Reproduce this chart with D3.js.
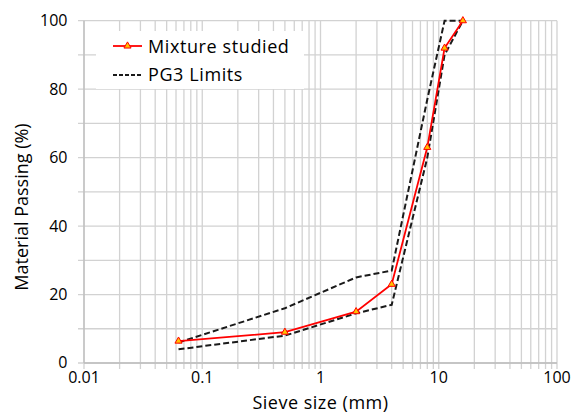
<!DOCTYPE html>
<html>
<head>
<meta charset="utf-8">
<script src="https://cdn.jsdelivr.net/npm/d3@7"></script>
<style>
  html, body { margin: 0; padding: 0; background: #fff; }
  svg { display: block; font-family: "Open Sans", sans-serif; }
</style>
</head>
<body>
<svg id="chart" width="581" height="416"></svg>
<script>
// Sieve sizes (mm) and percentage passing
const sieveSizes   = [0.063, 0.5, 2, 4, 8, 11.2, 16];
const mixture      = [6.4, 9, 15, 23, 63, 92, 100];
const upperLimit   = [6, 16, 25, 27, 77, 100, 100];
const lowerLimit   = [4, 8, 14.5, 17, 60, 90, 100];

const xTickValues  = [0.01, 0.1, 1, 10, 100];
const xTickLabels  = ["0.01", "0.1", "1", "10", "100"];
const yTickValues  = [0, 20, 40, 60, 80, 100];

const seriesNames  = ["Mixture studied", "PG3 Limits"];

const svg = d3.select("#chart");
const plotLeft = 84, plotRight = 557, plotTop = 20.7, plotBottom = 363;

const x = d3.scaleLog().domain([0.01, 100]).range([plotLeft, plotRight]);
const y = d3.scaleLinear().domain([0, 100]).range([plotBottom, plotTop]);

const gridColor = "#d2d2d2";

// minor + major gridlines on the log axis (1..9 per decade)
const xGrid = [];
for (let e = -2; e < 2; e++) {
  for (let m = 1; m < 10; m++) xGrid.push(m * Math.pow(10, e));
}
xGrid.push(100);
const yGrid = d3.range(0, 101, 10);

const grid = svg.append("g");
grid.selectAll("line.vx").data(xGrid).join("line")
  .attr("x1", d => x(d)).attr("x2", d => x(d))
  .attr("y1", plotTop).attr("y2", plotBottom + 6)
  .attr("stroke", gridColor).attr("stroke-width", 1.3);
grid.selectAll("line.hy").data(yGrid).join("line")
  .attr("x1", plotLeft - 6).attr("x2", plotRight)
  .attr("y1", d => y(d)).attr("y2", d => y(d))
  .attr("stroke", gridColor).attr("stroke-width", 1.3);

// axis lines
svg.append("line").attr("x1", plotLeft).attr("x2", plotRight).attr("y1", plotBottom).attr("y2", plotBottom)
  .attr("stroke", "#bdbdbd").attr("stroke-width", 1.3);
svg.append("line").attr("x1", plotLeft).attr("x2", plotLeft).attr("y1", plotTop).attr("y2", plotBottom)
  .attr("stroke", "#bdbdbd").attr("stroke-width", 1.3);

// tick labels
svg.append("g").selectAll("text").data(xTickValues).join("text")
  .attr("x", d => x(d)).attr("y", 383)
  .attr("text-anchor", "middle").attr("font-size", 16).attr("fill", "#000")
  .text((d, i) => xTickLabels[i]);
svg.append("g").selectAll("text").data(yTickValues).join("text")
  .attr("x", 67.5).attr("y", d => y(d)).attr("dy", "0.34em")
  .attr("text-anchor", "end").attr("font-size", 16).attr("fill", "#000")
  .text(d => d);

// axis titles
svg.append("text").attr("x", (plotLeft + plotRight) / 2).attr("y", 409)
  .attr("text-anchor", "middle").attr("font-size", 18).attr("fill", "#000")
  .attr("letter-spacing", 0.5)
  .text("Sieve size (mm)");
svg.append("text").attr("transform", "translate(28,207) rotate(-90)")
  .attr("text-anchor", "middle").attr("font-size", 18).attr("fill", "#000")
  .text("Material Passing (%)");

// curves
const line = d3.line().x(d => x(d[0])).y(d => y(d[1]));
const pairs = vals => sieveSizes.map((s, i) => [s, vals[i]]);

[upperLimit, lowerLimit].forEach(vals => {
  svg.append("path").datum(pairs(vals)).attr("d", line)
    .attr("fill", "none").attr("stroke", "#1a1a1a").attr("stroke-width", 2)
    .attr("stroke-dasharray", "6,3");
});

svg.append("path").datum(pairs(mixture)).attr("d", line)
  .attr("fill", "none").attr("stroke", "#ff0000").attr("stroke-width", 1.8);

const tri = d3.symbol().type(d3.symbolTriangle).size(22);
svg.append("g").selectAll("path").data(pairs(mixture)).join("path")
  .attr("transform", d => `translate(${x(d[0])},${y(d[1])})`)
  .attr("d", tri).attr("fill", "#ffc000").attr("stroke", "#ff0000").attr("stroke-width", 1);

// legend
const lg = svg.append("g");
lg.append("rect").attr("x", 96).attr("y", 31).attr("width", 208).attr("height", 58).attr("fill", "#fff");
lg.append("line").attr("x1", 113).attr("x2", 142).attr("y1", 46).attr("y2", 46)
  .attr("stroke", "#ff0000").attr("stroke-width", 1.8);
lg.append("path").attr("transform", "translate(127.5,46)").attr("d", tri)
  .attr("fill", "#ffc000").attr("stroke", "#ff0000").attr("stroke-width", 1);
lg.append("line").attr("x1", 113).attr("x2", 142).attr("y1", 75).attr("y2", 75)
  .attr("stroke", "#1a1a1a").attr("stroke-width", 2).attr("stroke-dasharray", "4,2");
lg.selectAll("text").data(seriesNames).join("text")
  .attr("x", 148).attr("y", (d, i) => 52.5 + i * 28)
  .attr("font-size", 18).attr("fill", "#000").attr("letter-spacing", 0.6)
  .text(d => d);
</script>
</body>
</html>
